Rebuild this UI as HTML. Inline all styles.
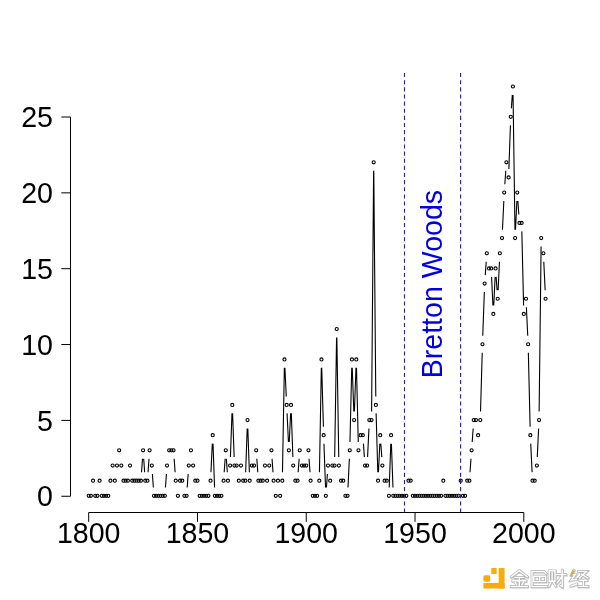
<!DOCTYPE html>
<html><head><meta charset="utf-8"><style>
html,body{margin:0;padding:0;background:#fff;width:600px;height:600px;overflow:hidden}
svg{display:block;will-change:transform}
text{font-family:"Liberation Sans",sans-serif;font-size:28.57px;fill:#000}
</style></head><body>
<svg width="600" height="600" viewBox="0 0 600 600">
<g stroke="#000" stroke-width="1" fill="none">
<path d="M70.5 117.00V496.25M61.3 496.25H70.5M61.3 420.40H70.5M61.3 344.55H70.5M61.3 268.70H70.5M61.3 192.85H70.5M61.3 117.00H70.5"/>
<path d="M88.70 512.5H523.80M88.70 512.5V521.8M197.48 512.5V521.8M306.25 512.5V521.8M415.02 512.5V521.8M523.80 512.5V521.8"/>
</g>
<g text-anchor="end"><text x="53" y="496.25" dy="0.355em">0</text><text x="53" y="420.40" dy="0.355em">5</text><text x="53" y="344.55" dy="0.355em">10</text><text x="53" y="268.70" dy="0.355em">15</text><text x="53" y="192.85" dy="0.355em">20</text><text x="53" y="117.00" dy="0.355em">25</text></g>
<g text-anchor="middle"><text x="88.70" y="543">1800</text><text x="197.48" y="543">1850</text><text x="306.25" y="543">1900</text><text x="415.02" y="543">1950</text><text x="523.80" y="543">2000</text></g>
<text transform="translate(441.6 378.3) rotate(-90)" style="fill:#0000e0">Bretton Woods</text>
<path d="M141.52 472.26L142.48 458.79 M143.69 458.79L144.66 472.26 M148.04 472.26L149.01 458.79 M152.39 473.95L153.36 487.42 M165.45 487.42L166.41 473.95 M174.15 458.79L175.12 472.26 M187.20 487.42L188.17 473.95 M210.93 472.25L212.30 443.64 M213.01 443.65L214.58 487.41 M224.19 472.26L225.15 458.79 M226.36 458.79L227.33 472.26 M230.41 457.08L231.98 413.32 M232.59 413.32L234.16 457.08 M245.64 472.24L247.21 428.48 M247.81 428.48L249.38 472.24 M256.82 458.79L257.78 472.26 M272.05 458.79L273.01 472.26 M282.47 472.24L284.34 367.84 M284.90 367.83L286.27 396.44 M287.07 413.32L288.44 441.92 M289.25 441.92L290.62 413.32 M291.32 413.32L292.89 457.08 M298.15 472.26L299.12 458.79 M309.03 458.79L310.00 472.26 M319.45 472.24L321.33 367.84 M321.72 367.84L323.41 426.76 M323.96 443.65L325.53 487.41 M326.43 487.42L327.40 473.95 M334.67 457.08L336.57 337.52 M336.84 337.52L338.75 457.08 M347.99 487.41L349.36 458.80 M349.96 441.92L351.73 367.84 M352.24 367.84L353.81 411.60 M354.41 411.60L355.98 367.84 M356.49 367.84L358.26 441.92 M363.42 443.63L364.38 457.10 M367.57 457.09L368.94 428.48 M371.59 411.59L373.62 170.74 M373.77 170.74L375.79 396.43 M376.11 413.32L377.80 472.24 M378.45 472.25L379.81 443.64 M380.82 443.63L381.79 457.10 M389.22 487.41L390.79 443.65 M391.40 443.65L392.97 487.41 M470.02 472.26L470.98 458.79 M472.19 441.94L473.16 428.47 M480.53 411.59L482.22 352.68 M482.77 335.79L484.34 292.03 M485.25 275.15L486.21 261.69 M491.57 276.86L492.94 305.47 M493.75 305.47L495.11 276.86 M496.12 276.85L497.09 290.32 M498.10 290.30L499.47 261.70 M502.45 229.66L503.82 201.05 M504.83 184.18L505.79 170.71 M508.87 169.00L510.44 125.24 M511.35 108.37L512.32 94.90 M513.04 94.93L514.98 229.65 M515.50 229.66L516.87 201.05 M517.88 201.04L518.84 214.51 M521.83 231.38L523.60 305.46 M526.38 307.18L527.75 335.79 M528.35 352.68L530.12 426.75 M530.73 443.64L532.10 472.25 M537.26 457.09L538.62 428.48 M539.13 411.59L541.10 246.55 M543.78 261.70L545.15 290.30" stroke="#000" stroke-width="1.1" fill="none"/>
<g stroke="#000" stroke-width="1.1" fill="none"><circle cx="88.70" cy="495.85" r="1.55"/><circle cx="90.88" cy="495.85" r="1.55"/><circle cx="93.05" cy="480.69" r="1.55"/><circle cx="95.23" cy="495.85" r="1.55"/><circle cx="97.40" cy="495.85" r="1.55"/><circle cx="99.58" cy="480.69" r="1.55"/><circle cx="101.75" cy="495.85" r="1.55"/><circle cx="103.93" cy="495.85" r="1.55"/><circle cx="106.10" cy="495.85" r="1.55"/><circle cx="108.28" cy="495.85" r="1.55"/><circle cx="110.45" cy="480.69" r="1.55"/><circle cx="112.63" cy="465.53" r="1.55"/><circle cx="114.81" cy="480.69" r="1.55"/><circle cx="116.98" cy="465.53" r="1.55"/><circle cx="119.16" cy="450.36" r="1.55"/><circle cx="121.33" cy="465.53" r="1.55"/><circle cx="123.51" cy="480.69" r="1.55"/><circle cx="125.68" cy="480.69" r="1.55"/><circle cx="127.86" cy="480.69" r="1.55"/><circle cx="130.03" cy="465.53" r="1.55"/><circle cx="132.21" cy="480.69" r="1.55"/><circle cx="134.39" cy="480.69" r="1.55"/><circle cx="136.56" cy="480.69" r="1.55"/><circle cx="138.74" cy="480.69" r="1.55"/><circle cx="140.91" cy="480.69" r="1.55"/><circle cx="143.09" cy="450.36" r="1.55"/><circle cx="145.26" cy="480.69" r="1.55"/><circle cx="147.44" cy="480.69" r="1.55"/><circle cx="149.61" cy="450.36" r="1.55"/><circle cx="151.79" cy="465.53" r="1.55"/><circle cx="153.97" cy="495.85" r="1.55"/><circle cx="156.14" cy="495.85" r="1.55"/><circle cx="158.32" cy="495.85" r="1.55"/><circle cx="160.49" cy="495.85" r="1.55"/><circle cx="162.67" cy="495.85" r="1.55"/><circle cx="164.84" cy="495.85" r="1.55"/><circle cx="167.02" cy="465.53" r="1.55"/><circle cx="169.19" cy="450.36" r="1.55"/><circle cx="171.37" cy="450.36" r="1.55"/><circle cx="173.54" cy="450.36" r="1.55"/><circle cx="175.72" cy="480.69" r="1.55"/><circle cx="177.90" cy="495.85" r="1.55"/><circle cx="180.07" cy="480.69" r="1.55"/><circle cx="182.25" cy="480.69" r="1.55"/><circle cx="184.42" cy="495.85" r="1.55"/><circle cx="186.60" cy="495.85" r="1.55"/><circle cx="188.77" cy="465.53" r="1.55"/><circle cx="190.95" cy="450.36" r="1.55"/><circle cx="193.12" cy="465.53" r="1.55"/><circle cx="195.30" cy="480.69" r="1.55"/><circle cx="197.48" cy="480.69" r="1.55"/><circle cx="199.65" cy="495.85" r="1.55"/><circle cx="201.83" cy="495.85" r="1.55"/><circle cx="204.00" cy="495.85" r="1.55"/><circle cx="206.18" cy="495.85" r="1.55"/><circle cx="208.35" cy="495.85" r="1.55"/><circle cx="210.53" cy="480.69" r="1.55"/><circle cx="212.70" cy="435.20" r="1.55"/><circle cx="214.88" cy="495.85" r="1.55"/><circle cx="217.05" cy="495.85" r="1.55"/><circle cx="219.23" cy="495.85" r="1.55"/><circle cx="221.41" cy="495.85" r="1.55"/><circle cx="223.58" cy="480.69" r="1.55"/><circle cx="225.76" cy="450.36" r="1.55"/><circle cx="227.93" cy="480.69" r="1.55"/><circle cx="230.11" cy="465.53" r="1.55"/><circle cx="232.28" cy="404.88" r="1.55"/><circle cx="234.46" cy="465.53" r="1.55"/><circle cx="236.63" cy="465.53" r="1.55"/><circle cx="238.81" cy="480.69" r="1.55"/><circle cx="240.99" cy="465.53" r="1.55"/><circle cx="243.16" cy="480.69" r="1.55"/><circle cx="245.34" cy="480.69" r="1.55"/><circle cx="247.51" cy="420.04" r="1.55"/><circle cx="249.69" cy="480.69" r="1.55"/><circle cx="251.86" cy="465.53" r="1.55"/><circle cx="254.04" cy="465.53" r="1.55"/><circle cx="256.21" cy="450.36" r="1.55"/><circle cx="258.39" cy="480.69" r="1.55"/><circle cx="260.56" cy="480.69" r="1.55"/><circle cx="262.74" cy="480.69" r="1.55"/><circle cx="264.92" cy="465.53" r="1.55"/><circle cx="267.09" cy="480.69" r="1.55"/><circle cx="269.27" cy="465.53" r="1.55"/><circle cx="271.44" cy="450.36" r="1.55"/><circle cx="273.62" cy="480.69" r="1.55"/><circle cx="275.79" cy="495.85" r="1.55"/><circle cx="277.97" cy="480.69" r="1.55"/><circle cx="280.14" cy="495.85" r="1.55"/><circle cx="282.32" cy="480.69" r="1.55"/><circle cx="284.50" cy="359.39" r="1.55"/><circle cx="286.67" cy="404.88" r="1.55"/><circle cx="288.85" cy="450.36" r="1.55"/><circle cx="291.02" cy="404.88" r="1.55"/><circle cx="293.20" cy="465.53" r="1.55"/><circle cx="295.37" cy="480.69" r="1.55"/><circle cx="297.55" cy="480.69" r="1.55"/><circle cx="299.72" cy="450.36" r="1.55"/><circle cx="301.90" cy="465.53" r="1.55"/><circle cx="304.07" cy="465.53" r="1.55"/><circle cx="306.25" cy="465.53" r="1.55"/><circle cx="308.43" cy="450.36" r="1.55"/><circle cx="310.60" cy="480.69" r="1.55"/><circle cx="312.78" cy="495.85" r="1.55"/><circle cx="314.95" cy="495.85" r="1.55"/><circle cx="317.13" cy="495.85" r="1.55"/><circle cx="319.30" cy="480.69" r="1.55"/><circle cx="321.48" cy="359.39" r="1.55"/><circle cx="323.65" cy="435.20" r="1.55"/><circle cx="325.83" cy="495.85" r="1.55"/><circle cx="328.00" cy="465.53" r="1.55"/><circle cx="330.18" cy="480.69" r="1.55"/><circle cx="332.36" cy="465.53" r="1.55"/><circle cx="334.53" cy="465.53" r="1.55"/><circle cx="336.71" cy="329.07" r="1.55"/><circle cx="338.88" cy="465.53" r="1.55"/><circle cx="341.06" cy="480.69" r="1.55"/><circle cx="343.23" cy="480.69" r="1.55"/><circle cx="345.41" cy="495.85" r="1.55"/><circle cx="347.58" cy="495.85" r="1.55"/><circle cx="349.76" cy="450.36" r="1.55"/><circle cx="351.94" cy="359.39" r="1.55"/><circle cx="354.11" cy="420.04" r="1.55"/><circle cx="356.29" cy="359.39" r="1.55"/><circle cx="358.46" cy="450.36" r="1.55"/><circle cx="360.64" cy="435.20" r="1.55"/><circle cx="362.81" cy="435.20" r="1.55"/><circle cx="364.99" cy="465.53" r="1.55"/><circle cx="367.16" cy="465.53" r="1.55"/><circle cx="369.34" cy="420.04" r="1.55"/><circle cx="371.51" cy="420.04" r="1.55"/><circle cx="373.69" cy="162.29" r="1.55"/><circle cx="375.87" cy="404.88" r="1.55"/><circle cx="378.04" cy="480.69" r="1.55"/><circle cx="380.22" cy="435.20" r="1.55"/><circle cx="382.39" cy="465.53" r="1.55"/><circle cx="384.57" cy="480.69" r="1.55"/><circle cx="386.74" cy="480.69" r="1.55"/><circle cx="388.92" cy="495.85" r="1.55"/><circle cx="391.09" cy="435.20" r="1.55"/><circle cx="393.27" cy="495.85" r="1.55"/><circle cx="395.45" cy="495.85" r="1.55"/><circle cx="397.62" cy="495.85" r="1.55"/><circle cx="399.80" cy="495.85" r="1.55"/><circle cx="401.97" cy="495.85" r="1.55"/><circle cx="404.15" cy="495.85" r="1.55"/><circle cx="406.32" cy="495.85" r="1.55"/><circle cx="408.50" cy="480.69" r="1.55"/><circle cx="410.67" cy="480.69" r="1.55"/><circle cx="412.85" cy="495.85" r="1.55"/><circle cx="415.02" cy="495.85" r="1.55"/><circle cx="417.20" cy="495.85" r="1.55"/><circle cx="419.38" cy="495.85" r="1.55"/><circle cx="421.55" cy="495.85" r="1.55"/><circle cx="423.73" cy="495.85" r="1.55"/><circle cx="425.90" cy="495.85" r="1.55"/><circle cx="428.08" cy="495.85" r="1.55"/><circle cx="430.25" cy="495.85" r="1.55"/><circle cx="432.43" cy="495.85" r="1.55"/><circle cx="434.60" cy="495.85" r="1.55"/><circle cx="436.78" cy="495.85" r="1.55"/><circle cx="438.96" cy="495.85" r="1.55"/><circle cx="441.13" cy="495.85" r="1.55"/><circle cx="443.31" cy="480.69" r="1.55"/><circle cx="445.48" cy="495.85" r="1.55"/><circle cx="447.66" cy="495.85" r="1.55"/><circle cx="449.83" cy="495.85" r="1.55"/><circle cx="452.01" cy="495.85" r="1.55"/><circle cx="454.18" cy="495.85" r="1.55"/><circle cx="456.36" cy="495.85" r="1.55"/><circle cx="458.53" cy="495.85" r="1.55"/><circle cx="460.71" cy="480.69" r="1.55"/><circle cx="462.89" cy="495.85" r="1.55"/><circle cx="465.06" cy="495.85" r="1.55"/><circle cx="467.24" cy="480.69" r="1.55"/><circle cx="469.41" cy="480.69" r="1.55"/><circle cx="471.59" cy="450.36" r="1.55"/><circle cx="473.76" cy="420.04" r="1.55"/><circle cx="475.94" cy="420.04" r="1.55"/><circle cx="478.11" cy="435.20" r="1.55"/><circle cx="480.29" cy="420.04" r="1.55"/><circle cx="482.47" cy="344.23" r="1.55"/><circle cx="484.64" cy="283.58" r="1.55"/><circle cx="486.82" cy="253.26" r="1.55"/><circle cx="488.99" cy="268.42" r="1.55"/><circle cx="491.17" cy="268.42" r="1.55"/><circle cx="493.34" cy="313.91" r="1.55"/><circle cx="495.52" cy="268.42" r="1.55"/><circle cx="497.69" cy="298.74" r="1.55"/><circle cx="499.87" cy="253.26" r="1.55"/><circle cx="502.04" cy="238.10" r="1.55"/><circle cx="504.22" cy="192.61" r="1.55"/><circle cx="506.40" cy="162.29" r="1.55"/><circle cx="508.57" cy="177.45" r="1.55"/><circle cx="510.75" cy="116.80" r="1.55"/><circle cx="512.92" cy="86.48" r="1.55"/><circle cx="515.10" cy="238.10" r="1.55"/><circle cx="517.27" cy="192.61" r="1.55"/><circle cx="519.45" cy="222.93" r="1.55"/><circle cx="521.62" cy="222.93" r="1.55"/><circle cx="523.80" cy="313.91" r="1.55"/><circle cx="525.98" cy="298.74" r="1.55"/><circle cx="528.15" cy="344.23" r="1.55"/><circle cx="530.33" cy="435.20" r="1.55"/><circle cx="532.50" cy="480.69" r="1.55"/><circle cx="534.68" cy="480.69" r="1.55"/><circle cx="536.85" cy="465.53" r="1.55"/><circle cx="539.03" cy="420.04" r="1.55"/><circle cx="541.20" cy="238.10" r="1.55"/><circle cx="543.38" cy="253.26" r="1.55"/><circle cx="545.56" cy="298.74" r="1.55"/></g>
<g stroke="#2a22a8" stroke-width="1.15" stroke-dasharray="4.1 3.04" fill="none">
<path d="M404.5 73V512.5M460.6 73V512.5"/>
</g>
<g fill="#f5ad0a"><rect x="498.7" y="568" width="5.9" height="20.6" rx="0.6"/><rect x="483.4" y="583" width="21.2" height="5.6" rx="0.6"/><rect x="491.3" y="568" width="5.4" height="5.9" rx="0.6"/><rect x="483.4" y="575.3" width="6.8" height="6.5" rx="1.6"/></g><g transform="translate(510.3 569.8) scale(1.0)"><path d="M9 0.8L1 7M9 0.8L17 7M4.5 7.6H13.5M2.5 11H15.5M9 7.6V16.8M5 12.6L6.4 15M13 12.6L11.6 15M1 16.8H17" stroke="#d4d4d4" stroke-width="3.0" fill="none" stroke-linecap="square" transform="translate(0.5 0.6)"/><path d="M9 0.8L1 7M9 0.8L17 7M4.5 7.6H13.5M2.5 11H15.5M9 7.6V16.8M5 12.6L6.4 15M13 12.6L11.6 15M1 16.8H17" stroke="#b0b0b0" stroke-width="2.7" fill="none" stroke-linecap="square"/><path d="M9 0.8L1 7M9 0.8L17 7M4.5 7.6H13.5M2.5 11H15.5M9 7.6V16.8M5 12.6L6.4 15M13 12.6L11.6 15M1 16.8H17" stroke="#ffffff" stroke-width="1.4" fill="none" stroke-linecap="square"/></g><g transform="translate(530.6 569.8) scale(1.0)"><path d="M1.4 1.8H13.6L15.4 3.6M1.4 1.8V16.8H16.4M3.2 6.4H15V11.8H3.2ZM9.1 6.4V11.8" stroke="#d4d4d4" stroke-width="3.0" fill="none" stroke-linecap="square" transform="translate(0.5 0.6)"/><path d="M1.4 1.8H13.6L15.4 3.6M1.4 1.8V16.8H16.4M3.2 6.4H15V11.8H3.2ZM9.1 6.4V11.8" stroke="#b0b0b0" stroke-width="2.7" fill="none" stroke-linecap="square"/><path d="M1.4 1.8H13.6L15.4 3.6M1.4 1.8V16.8H16.4M3.2 6.4H15V11.8H3.2ZM9.1 6.4V11.8" stroke="#ffffff" stroke-width="1.4" fill="none" stroke-linecap="square"/></g><g transform="translate(548.2 569.6) scale(1.0)"><path d="M1 1.2H6.8V11.6H1ZM3.9 3V10.2M2.6 12.4L0.8 16.4M5.2 12.4L7.4 16.2M8.6 5H17.6M14 0.6V17L12.4 16M14 6.4L9 13.2" stroke="#d4d4d4" stroke-width="3.0" fill="none" stroke-linecap="square" transform="translate(0.5 0.6)"/><path d="M1 1.2H6.8V11.6H1ZM3.9 3V10.2M2.6 12.4L0.8 16.4M5.2 12.4L7.4 16.2M8.6 5H17.6M14 0.6V17L12.4 16M14 6.4L9 13.2" stroke="#b0b0b0" stroke-width="2.7" fill="none" stroke-linecap="square"/><path d="M1 1.2H6.8V11.6H1ZM3.9 3V10.2M2.6 12.4L0.8 16.4M5.2 12.4L7.4 16.2M8.6 5H17.6M14 0.6V17L12.4 16M14 6.4L9 13.2" stroke="#ffffff" stroke-width="1.4" fill="none" stroke-linecap="square"/></g><g transform="translate(570.2 569.8) scale(1.0)"><path d="M3.6 0.6L1.2 5H5L1 10.2L6.2 9.4M0.8 16.2L6.4 14.2M8.4 1.6H16.2L9.4 8.2M11.4 4.4L17.6 8.2M9.6 10.4H16.6M13.1 10.4V16.6M8.6 16.6H17.6" stroke="#d4d4d4" stroke-width="3.0" fill="none" stroke-linecap="square" transform="translate(0.5 0.6)"/><path d="M3.6 0.6L1.2 5H5L1 10.2L6.2 9.4M0.8 16.2L6.4 14.2M8.4 1.6H16.2L9.4 8.2M11.4 4.4L17.6 8.2M9.6 10.4H16.6M13.1 10.4V16.6M8.6 16.6H17.6" stroke="#b0b0b0" stroke-width="2.7" fill="none" stroke-linecap="square"/><path d="M3.6 0.6L1.2 5H5L1 10.2L6.2 9.4M0.8 16.2L6.4 14.2M8.4 1.6H16.2L9.4 8.2M11.4 4.4L17.6 8.2M9.6 10.4H16.6M13.1 10.4V16.6M8.6 16.6H17.6" stroke="#ffffff" stroke-width="1.4" fill="none" stroke-linecap="square"/></g><path d="M573.6 570.4L571.2 576.2" stroke="#e8a21a" stroke-width="1.8"/>
</svg>
</body></html>
